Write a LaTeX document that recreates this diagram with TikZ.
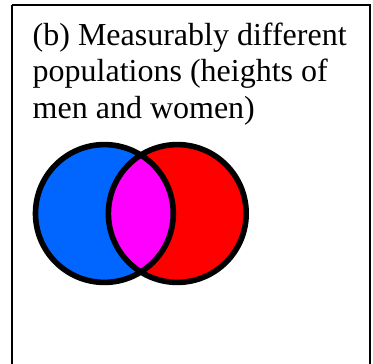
\documentclass[tikz,border=0pt]{standalone}
\usepackage{fontspec}
\setmainfont{Liberation Serif}
\definecolor{popblue}{HTML}{0066FF}
\definecolor{popred}{HTML}{FF0000}
\definecolor{popmag}{HTML}{FF00FF}
\tikzset{
  frameline/.style={draw=black,line width=2.5pt},
  ringline/.style={draw=black,line width=5.6pt},
  caption/.style={inner sep=0pt,align=left,font=\fontsize{32}{36.5}\selectfont}
}
\begin{document}
\begin{tikzpicture}[x=1pt,y=-1pt]
\useasboundingbox (0,0) rectangle (373,364);
\draw[frameline] (12,5) -- (370,5) -- (370,370) (12,370) -- (12,5);
\coordinate (cb) at (104.4,213.5);
\coordinate (cr) at (177.3,213.5);
\fill[popblue] (cb) circle[radius=68.9];
\fill[popred] (cr) circle[radius=68.9];
\begin{scope}
  \clip (cb) circle[radius=68.9];
  \fill[popmag] (cr) circle[radius=68.9];
\end{scope}
\draw[ringline] (cb) circle[radius=68.9];
\draw[ringline] (cr) circle[radius=68.9];
\node[caption,anchor=base west] (title) at (32.5,118) {(b) Measurably different\\populations (heights of\\men and women)};
\end{tikzpicture}
\end{document}
